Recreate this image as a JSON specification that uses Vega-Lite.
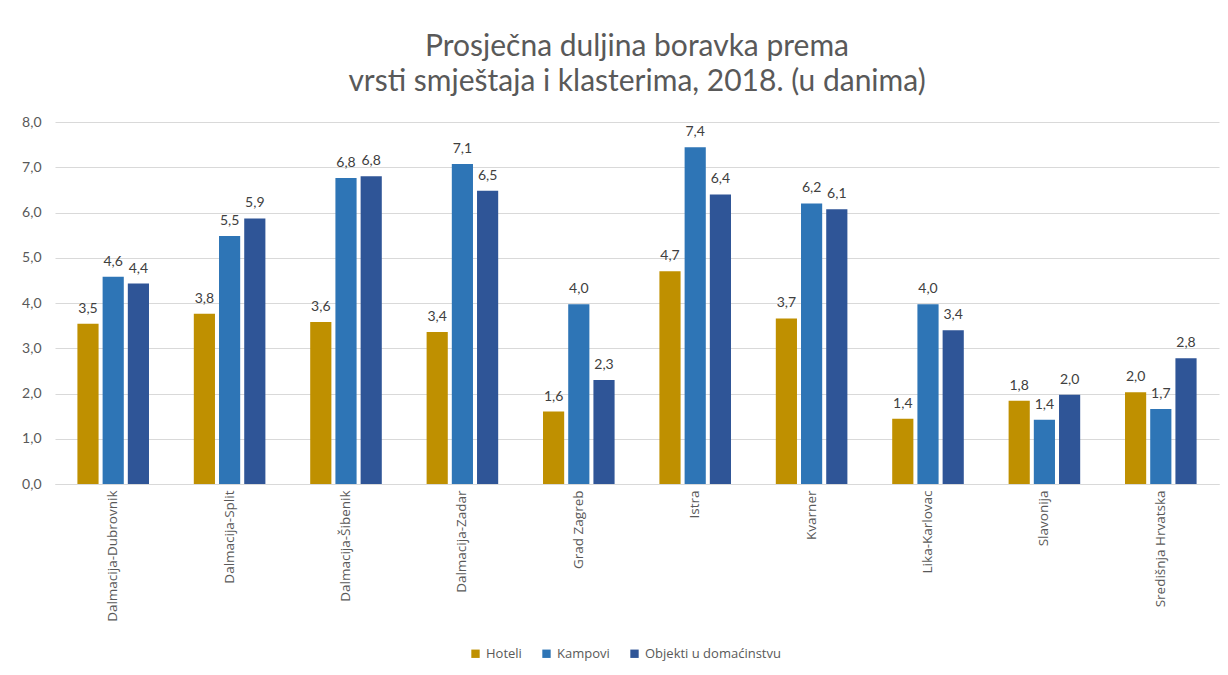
{
  "$schema": "https://vega.github.io/schema/vega-lite/v6.json",
  "width": 1164,
  "height": 362,
  "autosize": {"type": "none"},
  "padding": {"left": 55, "top": 122, "right": 9, "bottom": 191},
  "background": "white",
  "config": {
    "locale": {"number": {"decimal": ",", "thousands": ".", "grouping": [3], "currency": ["", " kn"]}},
    "font": "Lato",
    "view": {"stroke": null}
  },
  "title": {
    "text": ["Prosječna duljina boravka prema", "vrsti smještaja i klasterima, 2018. (u danima)"],
    "fontSize": 30,
    "fontWeight": "normal",
    "color": "#595959",
    "lineHeight": 35,
    "offset": 18,
    "anchor": "middle"
  },
  "data": {
    "values": [
      {"klaster": "Dalmacija-Dubrovnik", "vrsta": "Hoteli", "dani": 3.54},
      {"klaster": "Dalmacija-Dubrovnik", "vrsta": "Kampovi", "dani": 4.58},
      {"klaster": "Dalmacija-Dubrovnik", "vrsta": "Objekti u domaćinstvu", "dani": 4.43},
      {"klaster": "Dalmacija-Split", "vrsta": "Hoteli", "dani": 3.76},
      {"klaster": "Dalmacija-Split", "vrsta": "Kampovi", "dani": 5.48},
      {"klaster": "Dalmacija-Split", "vrsta": "Objekti u domaćinstvu", "dani": 5.87},
      {"klaster": "Dalmacija-Šibenik", "vrsta": "Hoteli", "dani": 3.58},
      {"klaster": "Dalmacija-Šibenik", "vrsta": "Kampovi", "dani": 6.76},
      {"klaster": "Dalmacija-Šibenik", "vrsta": "Objekti u domaćinstvu", "dani": 6.8},
      {"klaster": "Dalmacija-Zadar", "vrsta": "Hoteli", "dani": 3.36},
      {"klaster": "Dalmacija-Zadar", "vrsta": "Kampovi", "dani": 7.07},
      {"klaster": "Dalmacija-Zadar", "vrsta": "Objekti u domaćinstvu", "dani": 6.48},
      {"klaster": "Grad Zagreb", "vrsta": "Hoteli", "dani": 1.6},
      {"klaster": "Grad Zagreb", "vrsta": "Kampovi", "dani": 3.97},
      {"klaster": "Grad Zagreb", "vrsta": "Objekti u domaćinstvu", "dani": 2.3},
      {"klaster": "Istra", "vrsta": "Hoteli", "dani": 4.7},
      {"klaster": "Istra", "vrsta": "Kampovi", "dani": 7.44},
      {"klaster": "Istra", "vrsta": "Objekti u domaćinstvu", "dani": 6.4},
      {"klaster": "Kvarner", "vrsta": "Hoteli", "dani": 3.66},
      {"klaster": "Kvarner", "vrsta": "Kampovi", "dani": 6.2},
      {"klaster": "Kvarner", "vrsta": "Objekti u domaćinstvu", "dani": 6.07},
      {"klaster": "Lika-Karlovac", "vrsta": "Hoteli", "dani": 1.44},
      {"klaster": "Lika-Karlovac", "vrsta": "Kampovi", "dani": 3.97},
      {"klaster": "Lika-Karlovac", "vrsta": "Objekti u domaćinstvu", "dani": 3.4},
      {"klaster": "Slavonija", "vrsta": "Hoteli", "dani": 1.84},
      {"klaster": "Slavonija", "vrsta": "Kampovi", "dani": 1.42},
      {"klaster": "Slavonija", "vrsta": "Objekti u domaćinstvu", "dani": 1.97},
      {"klaster": "Središnja Hrvatska", "vrsta": "Hoteli", "dani": 2.03},
      {"klaster": "Središnja Hrvatska", "vrsta": "Kampovi", "dani": 1.66},
      {"klaster": "Središnja Hrvatska", "vrsta": "Objekti u domaćinstvu", "dani": 2.78}
    ]
  },
  "encoding": {
    "x": {
      "field": "klaster",
      "type": "nominal",
      "sort": null,
      "title": null,
      "scale": {"paddingInner": 0.385, "paddingOuter": 0.1925},
      "axis": {
        "labelAngle": -90,
        "labelFont": "Open Sans",
        "labelFontSize": 13.5,
        "labelColor": "#595959",
        "labelPadding": 6,
        "ticks": false,
        "domainColor": "#d9d9d9",
        "domainWidth": 1
      }
    },
    "xOffset": {
      "field": "vrsta",
      "type": "nominal",
      "scale": {"paddingInner": 0.16, "paddingOuter": 0}
    },
    "y": {
      "field": "dani",
      "type": "quantitative",
      "title": null,
      "scale": {"domain": [0, 8], "nice": false},
      "axis": {
        "values": [0, 1, 2, 3, 4, 5, 6, 7, 8],
        "format": ".1f",
        "labelFontSize": 14,
        "labelColor": "#595959",
        "labelPadding": 14,
        "ticks": false,
        "domain": false,
        "gridColor": "#d9d9d9",
        "gridWidth": 1
      }
    }
  },
  "layer": [
    {
      "mark": {"type": "bar"},
      "encoding": {
        "color": {
          "field": "vrsta",
          "type": "nominal",
          "title": null,
          "scale": {
            "domain": ["Hoteli", "Kampovi", "Objekti u domaćinstvu"],
            "range": ["#BF9000", "#2E75B6", "#2F5597"]
          },
          "legend": {
            "orient": "none",
            "legendX": 414,
            "legendY": 525,
            "direction": "horizontal",
            "symbolType": "square",
            "symbolSize": 70,
            "symbolStrokeWidth": 0,
            "labelFont": "Open Sans",
            "labelFontSize": 13,
            "labelColor": "#595959",
            "columnPadding": 18
          }
        }
      }
    },
    {
      "mark": {"type": "text", "dy": -15, "fontSize": 14, "color": "#404040"},
      "encoding": {
        "text": {"field": "dani", "type": "quantitative", "format": ".1f"}
      }
    }
  ]
}
